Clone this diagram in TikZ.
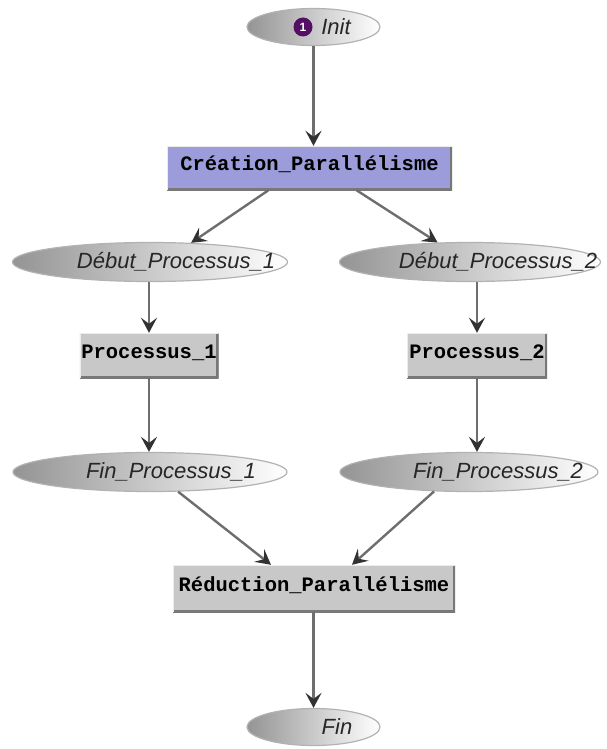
\documentclass[tikz,border=0pt]{standalone}
\usepackage{fontspec}
\setmainfont{Liberation Sans}
\newfontfamily\monofont{Liberation Mono}
\usetikzlibrary{shapes.geometric,arrows.meta}

\definecolor{boxgrey}{RGB}{200,200,200}
\definecolor{boxlav}{RGB}{156,156,218}
\definecolor{edgegrey}{RGB}{120,120,120}
\definecolor{flowgrey}{RGB}{110,110,110}
\definecolor{tipgrey}{RGB}{50,50,50}
\definecolor{markpurple}{RGB}{84,14,100}

\tikzset{
  state/.style={ellipse, minimum height=39pt, inner sep=0pt,
    draw=black!30, line width=1.2pt,
    left color=black!42, middle color=black!4, right color=white},
  statetext/.style={inner sep=0pt, text=black!85,
    font=\fontsize{22}{24}\selectfont\itshape},
  taskbox/.style={rectangle, inner sep=0pt, fill=boxgrey, text=black,
    font=\monofont\bfseries\fontsize{20.5}{22}\selectfont,
    path picture={
      \draw[edgegrey, line width=5pt]
        (path picture bounding box.north east) --
        (path picture bounding box.south east) --
        (path picture bounding box.south west);
      \draw[white!85!gray, line width=2pt]
        (path picture bounding box.south west) --
        (path picture bounding box.north west) --
        (path picture bounding box.north east);}},
  flow/.style={draw=flowgrey, line width=2.4pt,
    -{Stealth[length=15pt,width=16pt,inset=6pt,color=tipgrey]}},
}

\begin{document}
\begin{tikzpicture}[x=1pt,y=-1pt]
  \useasboundingbox (0,0) rectangle (606,749);

  % start state
  \node[state, minimum width=133pt, minimum height=37pt] (init) at (313.5,27) {};
  \node[circle, fill=markpurple, minimum size=19pt, inner sep=0pt, text=white,
        font=\bfseries\fontsize{12}{13}\selectfont] (mark) at (303,27) {1};
  \node[statetext] (initt) at (336,27) {Init};

  % fork
  \node[taskbox, fill=boxlav, minimum width=285pt, minimum height=44pt,
        text depth=9pt] (fork) at (309.5,168) {Création\_Parallélisme};

  % branch start states
  \node[state, minimum width=275pt] (dp1) at (150,262) {};
  \node[statetext] (dp1t) at (176,262) {Début\_Processus\_1};
  \node[state, minimum width=261pt] (dp2) at (470,262) {};
  \node[statetext] (dp2t) at (498,262) {Début\_Processus\_2};

  % processes
  \node[taskbox, minimum width=139pt, minimum height=45pt,
        text depth=8pt] (p1) at (149,355.5) {Processus\_1};
  \node[taskbox, minimum width=140pt, minimum height=45pt,
        text depth=8pt] (p2) at (477,355.5) {Processus\_2};

  % branch end states
  \node[state, minimum width=274pt] (fp1) at (150,472) {};
  \node[statetext] (fp1t) at (171,472) {Fin\_Processus\_1};
  \node[state, minimum width=258pt] (fp2) at (469,472) {};
  \node[statetext] (fp2t) at (498,472) {Fin\_Processus\_2};

  % join
  \node[taskbox, minimum width=282pt, minimum height=47pt,
        text depth=9pt] (join) at (314,588.5) {Réduction\_Parallélisme};

  % final state
  \node[state, minimum width=133pt, minimum height=37pt] (fin) at (313.5,727) {};
  \node[statetext] (fint) at (337,727) {Fin};

  % transitions
  \draw[flow] (init.south) -- (init.south |- fork.north);
  \draw[flow] ([xshift=-41pt]fork.south) -- (dp1.25.5);
  \draw[flow] ([xshift=47pt]fork.south) -- (dp2.149.6);
  \draw[flow] (dp1.south -| p1.north) -- (p1.north);
  \draw[flow] (p2.north |- dp2.south) -- (p2.north);
  \draw[flow] (p1.south) -- (p1.south |- fp1.north);
  \draw[flow] (p2.south) -- (p2.south |- fp2.north);
  \draw[flow] (fp1.-35) -- ([xshift=-43pt]join.north);
  \draw[flow] (fp2.209.6) -- ([xshift=38pt]join.north);
  \draw[flow] (join.south -| fin.north) -- (fin.north);
\end{tikzpicture}
\end{document}
